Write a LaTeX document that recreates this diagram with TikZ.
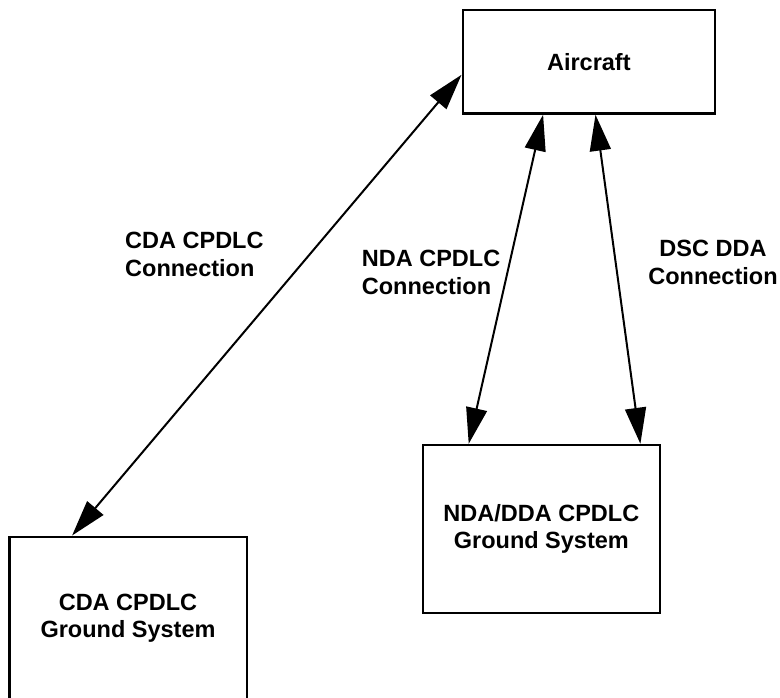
\documentclass[tikz,border=0pt]{standalone}
\usepackage{fontspec}
\setmainfont{Liberation Sans}
\usetikzlibrary{arrows.meta}
\begin{document}
\begin{tikzpicture}[x=1pt,y=-1pt,
  box/.style={draw, line width=2.4pt, inner sep=0pt, align=center,
    font=\bfseries\fontsize{23.5}{27}\selectfont},
  lbl/.style={inner sep=0pt, font=\bfseries\fontsize{23.5}{28.3}\selectfont},
  link/.style={line width=2pt,
    {Triangle[length=36pt,width=21pt]}-{Triangle[length=36pt,width=21pt]}}]
\useasboundingbox (0,0) rectangle (780,697);

% systems
\node[box, minimum width=252.3pt, minimum height=103.5pt] (ac) at (588.85,61.75) {Aircraft};
\node[box, minimum width=237.3pt, minimum height=167.7pt] (gnd) at (541.35,528.85) {NDA/DDA CPDLC\\Ground System};
\node[box, minimum width=237.4pt, minimum height=162.3pt] (cda) at (128,617.85) {CDA CPDLC\\Ground System};

% connections
\draw[link] ([xshift=64pt]cda.north west) -- ([yshift=-66pt]ac.north west);
\draw[link] ([xshift=81.6pt]ac.south west) -- ([xshift=47.2pt]gnd.north west);
\draw[link] ([xshift=134pt]ac.south west) -- ([xshift=218.9pt]gnd.north west);

% connection labels
\node[lbl, anchor=north west, align=left] (l1) at (125,231.7) {CDA CPDLC\\Connection};
\node[lbl, anchor=north west, align=left] (l2) at (361.7,250) {NDA CPDLC\\Connection};
\node[lbl, anchor=north, align=center] (l3) at (713,240) {DSC DDA\\Connection};
\end{tikzpicture}
\end{document}
